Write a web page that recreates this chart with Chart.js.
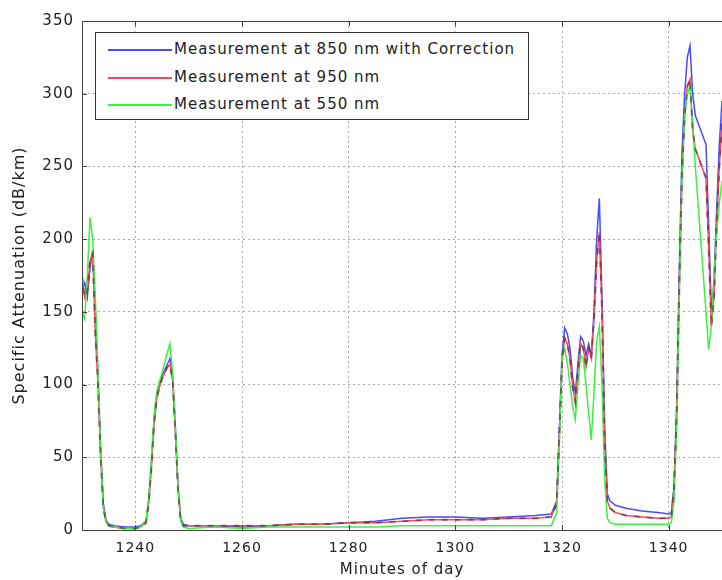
<!DOCTYPE html>
<head>
  <script src="https://cdn.jsdelivr.net/npm/chart.js"></script>
  <style>
      body { margin: 0; background: #fff; }
      .chartBox {
        position: relative;
        width: 722px;
        height: 580px;
      }
      .legendBox {
        position: absolute;
        left: 95px;
        top: 32px;
        width: 432px;
        height: 86px;
        border: solid 1px #333;
        background: #fff;
        font-family: "DejaVu Sans", sans-serif;
        font-size: 15px;
        letter-spacing: 1px;
        color: #222;
      }
      .legendRow {
        position: absolute;
        left: 12px;
        height: 20px;
        line-height: 20px;
        white-space: nowrap;
      }
      .legendRow span {
        display: inline-block;
        width: 64px;
        height: 0;
        border-top: solid 2px;
        vertical-align: middle;
        margin-right: 2px;
      }
  </style>
</head>

<body>
  <div class="chartBox">
    <canvas id='attChart' width="722" height="580"></canvas>
    <div class="legendBox">
      <div class="legendRow" style="top:6px"><span style="border-color:#4a4aff"></span>Measurement at 850 nm with Correction</div>
      <div class="legendRow" style="top:34px"><span style="border-color:#ff4a5a"></span>Measurement at 950 nm</div>
      <div class="legendRow" style="top:61px"><span style="border-color:#3ef03e"></span>Measurement at 550 nm</div>
    </div>
  </div>

<script>
const minutes = [1230, 1230.5, 1231, 1231.5, 1232, 1232.5, 1233, 1233.5, 1234, 1234.5, 1235, 1236, 1238, 1240, 1241, 1242, 1242.5, 1243, 1243.5, 1244, 1244.5, 1245, 1245.5, 1246, 1246.5, 1247, 1247.5, 1248, 1248.5, 1249, 1250, 1255, 1260, 1265, 1270, 1275, 1280, 1285, 1290, 1295, 1300, 1305, 1310, 1315, 1318, 1319, 1319.5, 1320, 1320.5, 1321, 1321.5, 1322, 1322.5, 1323, 1323.5, 1324, 1324.5, 1325, 1325.5, 1326, 1326.5, 1327, 1327.5, 1328, 1328.5, 1329, 1330, 1332, 1335, 1338, 1340, 1340.5, 1341, 1341.5, 1342, 1342.5, 1343, 1343.5, 1344, 1344.5, 1345, 1346, 1347, 1347.5, 1348, 1348.5, 1349, 1349.5, 1350];

const att850corr = [165, 170, 160, 180, 192, 150, 105, 55, 18, 7, 4, 3, 2, 2, 3, 6, 20, 45, 75, 92, 100, 106, 110, 114, 118, 105, 70, 30, 8, 4, 3, 3, 2, 3, 4, 4, 5, 6, 8, 9, 9, 8, 9, 10, 11, 20, 70, 120, 139, 135, 125, 105, 94, 115, 133, 130, 120, 128, 120, 150, 200, 228, 160, 70, 25, 20, 17, 15, 13, 12, 11, 12, 30, 85, 180, 260, 300, 325, 333, 300, 285, 275, 265, 210, 150, 170, 220, 265, 295];

const att950 = [175, 160, 165, 185, 190, 135, 100, 50, 15, 6, 3, 2, 1, 1, 2, 5, 18, 42, 72, 90, 98, 104, 108, 112, 114, 102, 68, 28, 7, 3, 3, 3, 3, 3, 4, 4, 5, 5, 6, 7, 7, 7, 8, 8, 9, 18, 65, 115, 132, 128, 118, 98, 88, 110, 128, 125, 112, 125, 118, 145, 185, 205, 150, 60, 20, 15, 12, 10, 9, 8, 8, 9, 28, 80, 170, 245, 285, 305, 310, 275, 262, 252, 242, 195, 140, 160, 210, 250, 280];

const att550 = [150, 145, 175, 215, 200, 160, 110, 55, 15, 5, 3, 2, 1, 1, 2, 6, 22, 48, 78, 95, 102, 108, 115, 122, 128, 108, 72, 30, 6, 2, 1, 2, 1, 2, 2, 2, 2, 2, 3, 3, 3, 3, 3, 3, 3, 12, 60, 118, 125, 115, 100, 85, 76, 100, 120, 118, 100, 80, 62, 95, 130, 140, 100, 35, 8, 5, 4, 4, 4, 4, 4, 5, 20, 70, 160, 240, 285, 300, 305, 280, 250, 200, 150, 124, 140, 175, 205, 225, 240];

const xTicks = [1240, 1260, 1280, 1300, 1320, 1340];

function toPoints(values) {
  return minutes.map((m, i) => ({ x: m, y: values[i] }));
}

// box round the axes, like the matlab frame; also widen the text a bit
const frameBox = {
  id: 'frameBox',
  beforeLayout(chart) {
    chart.ctx.letterSpacing = '1px';
  },
  beforeDraw(chart) {
    chart.ctx.letterSpacing = '1px';
  },
  afterDraw(chart) {
    const {ctx, chartArea: {top, bottom, left, right}, scales: {x, y}} = chart;
    ctx.save();
    ctx.strokeStyle = '#444';
    ctx.lineWidth = 1;
    ctx.strokeRect(left + 0.5, top + 0.5, right - left, bottom - top);
    // small tick marks on the frame
    ctx.beginPath();
    xTicks.forEach(v => {
      const px = Math.round(x.getPixelForValue(v)) + 0.5;
      ctx.moveTo(px, bottom); ctx.lineTo(px, bottom - 5);
      ctx.moveTo(px, top); ctx.lineTo(px, top + 5);
    });
    y.ticks.forEach(t => {
      const py = Math.round(y.getPixelForValue(t.value)) + 0.5;
      ctx.moveTo(left, py); ctx.lineTo(left + 5, py);
    });
    ctx.stroke();
    ctx.restore();
  }
};

const lineStyle = { pointRadius: 0, borderWidth: 1.5, tension: 0, fill: false };

new Chart(document.getElementById("attChart"), {
    type: 'line',
    data: {
      datasets: [
        {
          label: "overlay",
          data: toPoints(att950),
          borderColor: 'rgba(60,40,60,0.55)',
          borderDash: [6, 7],
          ...lineStyle,
          borderWidth: 2
        },
        {
          label: "Measurement at 550 nm",
          data: toPoints(att550),
          borderColor: '#3ef03e',
          ...lineStyle
        },
        {
          label: "Measurement at 950 nm",
          data: toPoints(att950),
          borderColor: '#ff4a5a',
          ...lineStyle
        },
        {
          label: "Measurement at 850 nm with Correction",
          data: toPoints(att850corr),
          borderColor: '#4a4aff',
          ...lineStyle
        }
      ]
    },
    options: {
      responsive: false,
      animation: false,
      layout: { padding: { left: 0, right: 0, top: 21, bottom: 0 } },
      plugins: {
        legend: { display: false },
        title: { display: false },
        tooltip: { enabled: false }
      },
      scales: {
        x: {
          type: 'linear',
          min: 1230,
          max: 1350,
          afterBuildTicks: (axis) => { axis.ticks = xTicks.map(v => ({ value: v })); },
          afterFit: (axis) => { axis.height = 50; },
          grid: { color: '#aaa', drawTicks: false },
          border: { color: '#444', dash: [2, 3] },
          ticks: {
            color: '#222',
            padding: 10,
            maxRotation: 0,
            font: { family: 'DejaVu Sans', size: 14 },
            callback: (v) => String(v)
          },
          title: {
            display: true,
            text: 'Minutes of day',
            color: '#222',
            font: { family: 'DejaVu Sans', size: 15 },
            padding: { top: 0, bottom: 1 }
          }
        },
        y: {
          min: 0,
          max: 350,
          afterFit: (axis) => { axis.width = 82; },
          grid: { color: '#aaa', drawTicks: false },
          border: { color: '#444', dash: [2, 3] },
          ticks: {
            stepSize: 50,
            color: '#222',
            padding: 8,
            font: { family: 'DejaVu Sans', size: 15 }
          },
          title: {
            display: true,
            text: 'Specific Attenuation (dB/km)',
            color: '#222',
            font: { family: 'DejaVu Sans', size: 16 },
            padding: { top: 10, bottom: 0 }
          }
        }
      }
    },
    plugins: [frameBox]
});
</script>
</body>
